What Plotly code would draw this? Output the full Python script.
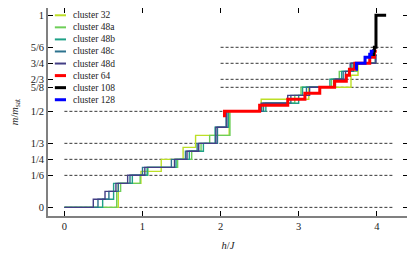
import plotly.graph_objects as go

# magnetization staircases m/m_sat vs h/J
h_32 = [0, 0.69, 0.98, 1.24, 1.52, 1.68, 2.11, 2.52, 3.13, 3.67, 3.76, 4.00]
m_32 = [0, .125, .1875, .25, .3125, .375, .5, .5625, .625, .6875, .75, .75]

h_48a = [0, 0.67, 0.72, 0.97, 1.07, 1.45, 1.63, 1.75, 1.86, 2.12, 2.53, 2.95, 3.03, 3.42, 3.52, 3.75, 3.96]
m_48a = [0, .083, .125, .167, .208, .25, .292, .333, .375, .5, .542, .583, .625, .667, .708, .75, .75]

h_48b = [0, 0.49, 0.63, 0.87, 1.06, 1.43, 1.60, 1.78, 1.93, 2.10, 2.58, 3.00, 3.05, 3.40, 3.55, 3.68, 3.97]
m_48b = [0, .042, .125, .167, .208, .25, .292, .333, .417, .5, .542, .583, .625, .667, .708, .75, .75]

h_48c = [0, 0.43, 0.57, 0.69, 0.84, 1.00, 1.37, 1.55, 1.70, 1.96, 2.07, 2.55, 2.90, 3.10, 3.45, 3.57, 3.70, 3.98, 4.00]
m_48c = [0, .042, .083, .125, .167, .208, .25, .292, .333, .417, .5, .542, .583, .625, .667, .708, .75, .792, .792]

h_48d = [0, 0.37, 0.52, 0.66, 0.81, 1.03, 1.41, 1.57, 1.72, 1.94, 2.08, 2.52, 2.86, 3.14, 3.47, 3.60, 3.66, 3.99, 4.00]
m_48d = [0, .042, .083, .125, .167, .208, .25, .292, .333, .417, .5, .542, .583, .625, .667, .708, .75, .792, .792]

h_64 = [2.05, 2.05, 2.50, 2.86, 3.08, 3.27, 3.46, 3.61, 3.65, 3.72, 3.91, 3.97, 4.00]
m_64 = [.469, .5, .531, .5625, .594, .625, .656, .6875, .719, .75, .781, .8125, .8125]

h_108 = [3.90, 3.96, 3.97, 3.99, 4.12]
m_108 = [.796, .815, .833, 1.0, 1.0]

h_128 = [3.73, 3.74, 3.85, 3.91, 3.93, 3.96]
m_128 = [.719, .75, .781, .797, .8125, .8125]

names = ['cluster 32', 'cluster 48a', 'cluster 48b', 'cluster 48c', 'cluster 48d',
         'cluster 64', 'cluster 108', 'cluster 128']
colors = ['#bddf26', '#6ece58', '#1fa187', '#2c728e', '#433e85', '#ff0000', '#000000', '#0000ff']
widths = [1.4, 1.4, 1.4, 1.4, 1.4, 3, 3, 3]

# dashed guide lines
guide_full = [0, 1/6, 1/4, 1/3, 1/2]      # drawn from h=0
guide_upper = [5/8, 2/3, 3/4, 5/6]        # drawn from h=2
guide_end = 4.2

tick_vals = [0, 1/6, 1/4, 1/3, 1/2, 5/8, 2/3, 3/4, 5/6, 1]
tick_text = ['0', '1/6', '1/4', '1/3', '1/2', '5/8', '2/3', '3/4', '5/6', '1']

series = [(h_32, m_32), (h_48a, m_48a), (h_48b, m_48b), (h_48c, m_48c), (h_48d, m_48d),
          (h_64, m_64), (h_108, m_108), (h_128, m_128)]

SERIF = 'Liberation Serif, DejaVu Serif, serif'

fig = go.Figure()

gx, gy = [], []
for v in guide_full:
    gx += [0, guide_end, None]
    gy += [v, v, None]
for v in guide_upper:
    gx += [2, guide_end, None]
    gy += [v, v, None]
fig.add_trace(go.Scatter(x=gx, y=gy, mode='lines', showlegend=False, hoverinfo='skip',
                         line=dict(color='black', width=0.8, dash='3px,2px')))

for (hx, my), name, c, w in zip(series, names, colors, widths):
    fig.add_trace(go.Scatter(x=hx, y=my, mode='lines', name=name, showlegend=False,
                             line=dict(color=c, width=w, shape='hv')))

# hand-made compact legend (plotly's legend rows are too tall here)
for i, (name, c, w) in enumerate(zip(names, colors, widths)):
    yy = 0.965 - i * 0.058
    fig.add_shape(type='line', xref='paper', yref='paper', x0=0.019, x1=0.05, y0=yy, y1=yy,
                  line=dict(color=c, width=w if w > 2 else 2))
    fig.add_annotation(xref='paper', yref='paper', x=0.065, y=yy, text=name, showarrow=False,
                       xanchor='left', yanchor='middle', font=dict(size=9.5, family=SERIF))

axis_style = dict(showline=True, linecolor='#808080', linewidth=1.6, mirror='ticks',
                  ticks='inside', ticklen=5, tickwidth=1, tickcolor='black',
                  showgrid=False, zeroline=False, automargin=False,
                  tickfont=dict(family=SERIF, size=10.5))

fig.update_xaxes(range=[-0.21, 4.4], tickvals=[0, 1, 2, 3, 4],
                 title=dict(text='<i>h</i>/<i>J</i>', standoff=10, font=dict(family=SERIF, size=10.5)),
                 **axis_style)
fig.update_yaxes(range=[-0.045, 1.038], tickvals=tick_vals, ticktext=tick_text,
                 title=dict(text='<i>m</i>/<i>m</i><sub>sat</sub>', standoff=10,
                            font=dict(family=SERIF, size=10.5)),
                 **axis_style)

# the page adds an 8px body margin, so the margins are shifted to compensate
fig.update_layout(
    width=415, height=258,
    margin=dict(l=40, r=15, t=0, b=50),
    plot_bgcolor='white', paper_bgcolor='white',
    font=dict(family=SERIF, size=10, color='#222222'),
)

fig.write_html("out.html")
